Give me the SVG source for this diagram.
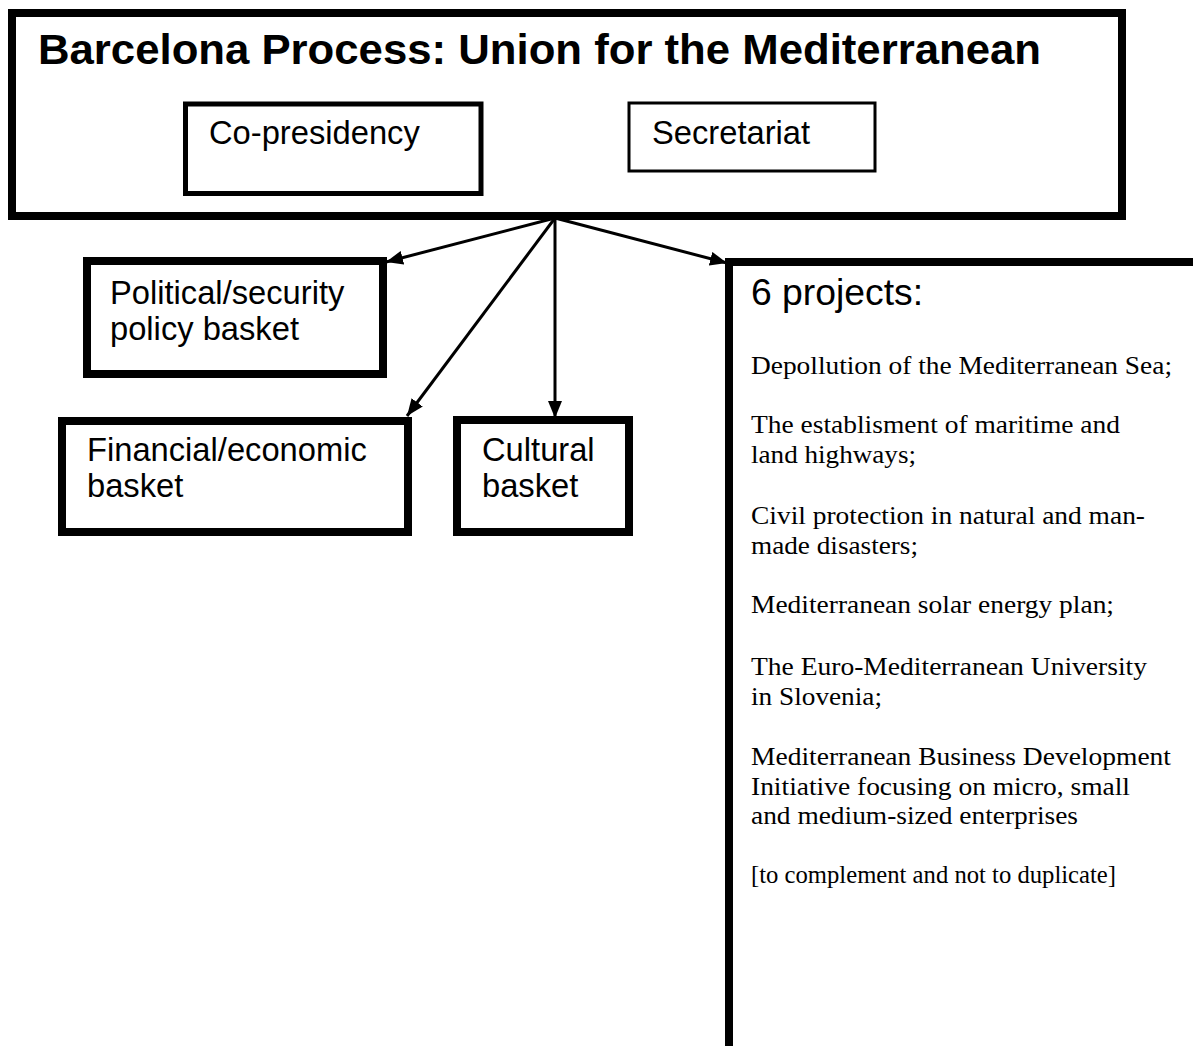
<svg xmlns="http://www.w3.org/2000/svg" width="1193" height="1046" viewBox="0 0 1193 1046">
<defs>
<style>
.box{fill:#fff;stroke:#000;stroke-width:8}
.thin{fill:#fff;stroke:#000;stroke-width:5}
.thinner{fill:#fff;stroke:#000;stroke-width:3}
.sans{font-family:"Liberation Sans",Arial,sans-serif;font-size:32.7px;fill:#000}
.title{font-family:"Liberation Sans",Arial,sans-serif;font-size:42px;font-weight:bold;fill:#000}
.serif{font-family:"Liberation Serif","Times New Roman",serif;font-size:25px;fill:#000}
.conn{stroke:#000;stroke-width:3;fill:none}
</style>
<marker id="arr" markerUnits="userSpaceOnUse" markerWidth="18" markerHeight="14" refX="17" refY="7" orient="auto">
<path d="M0,0 L17,7 L0,14 z" fill="#000"/>
</marker>
</defs>
<rect width="1193" height="1046" fill="#fff"/>

<g id="main">
<rect class="box" x="12" y="13" width="1110" height="203"/>
<text class="title" x="38" y="64" textLength="1003" lengthAdjust="spacingAndGlyphs">Barcelona Process: Union for the Mediterranean</text>
</g>

<g id="copresidency">
<rect class="thin" x="185.5" y="104" width="295.5" height="89.5"/>
<text class="sans" x="209" y="144">Co-presidency</text>
</g>

<g id="secretariat">
<rect class="thinner" x="629" y="103" width="246" height="68"/>
<text class="sans" x="652" y="144">Secretariat</text>
</g>

<g id="political">
<rect class="box" x="87" y="261" width="296" height="113"/>
<text class="sans" x="110" y="304">Political/security</text>
<text class="sans" x="110" y="340">policy basket</text>
</g>

<g id="financial">
<rect class="box" x="62" y="421" width="346" height="111"/>
<text class="sans" x="87" y="461">Financial/economic</text>
<text class="sans" x="87" y="497">basket</text>
</g>

<g id="cultural">
<rect class="box" x="457" y="420" width="172" height="112"/>
<text class="sans" x="482" y="461">Cultural</text>
<text class="sans" x="482" y="497">basket</text>
</g>

<g id="projects">
<rect class="box" x="729" y="262" width="520" height="850"/>
<text class="sans" x="751" y="305" style="font-size:36px" textLength="172" lengthAdjust="spacingAndGlyphs">6 projects:</text>
<text class="serif" x="751" y="374" textLength="421" lengthAdjust="spacingAndGlyphs">Depollution of the Mediterranean Sea;</text>
<text class="serif" x="751" y="433" textLength="369" lengthAdjust="spacingAndGlyphs">The establisment of maritime and</text>
<text class="serif" x="751" y="463" textLength="165" lengthAdjust="spacingAndGlyphs">land highways;</text>
<text class="serif" x="751" y="524" textLength="394" lengthAdjust="spacingAndGlyphs">Civil protection in natural and man-</text>
<text class="serif" x="751" y="554" textLength="167" lengthAdjust="spacingAndGlyphs">made disasters;</text>
<text class="serif" x="751" y="613" textLength="363" lengthAdjust="spacingAndGlyphs">Mediterranean solar energy plan;</text>
<text class="serif" x="751" y="675" textLength="396" lengthAdjust="spacingAndGlyphs">The Euro-Mediterranean University</text>
<text class="serif" x="751" y="705" textLength="131" lengthAdjust="spacingAndGlyphs">in Slovenia;</text>
<text class="serif" x="751" y="765" textLength="420" lengthAdjust="spacingAndGlyphs">Mediterranean Business Development</text>
<text class="serif" x="751" y="795" textLength="379" lengthAdjust="spacingAndGlyphs">Initiative focusing on micro, small</text>
<text class="serif" x="751" y="824" textLength="327" lengthAdjust="spacingAndGlyphs">and medium-sized enterprises</text>
<text class="serif" x="751" y="883" textLength="365" lengthAdjust="spacingAndGlyphs">[to complement and not to duplicate]</text>
</g>

<g id="connectors">
<line class="conn" x1="555" y1="218" x2="386" y2="262" marker-end="url(#arr)"/>
<line class="conn" x1="555" y1="218" x2="407" y2="416" marker-end="url(#arr)"/>
<line class="conn" x1="555" y1="218" x2="555" y2="418" marker-end="url(#arr)"/>
<line class="conn" x1="555" y1="218" x2="727" y2="263" marker-end="url(#arr)"/>
</g>
</svg>
